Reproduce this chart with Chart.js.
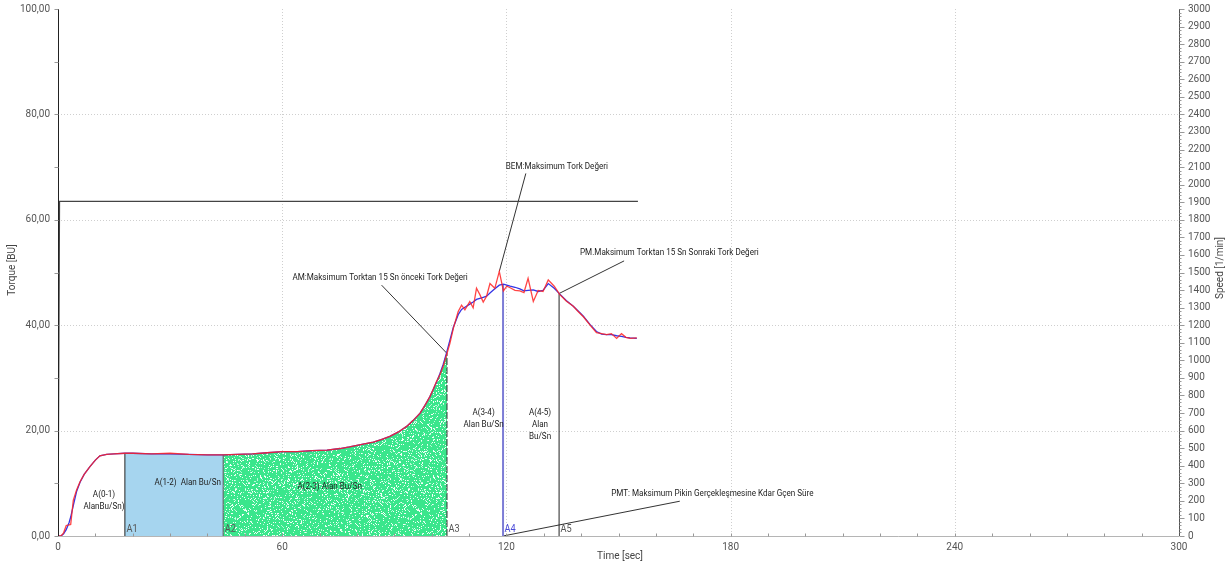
<!DOCTYPE html>
<html>
<head>
<meta charset="utf-8">
<script src="https://cdn.jsdelivr.net/npm/chart.js@4.4.1/dist/chart.umd.min.js"></script>
<style>
  html, body { margin: 0; padding: 0; background: #fff; overflow: hidden; }
  canvas { display: block; }
</style>
</head>
<body>
<canvas id="c" width="1232" height="567"></canvas>
<script>
// Farinograph-style run: torque (BU) and mixer speed over time
const timeSec = [0, 0.8, 1.5, 2.2, 3.0, 3.4, 4.1, 5.0, 5.9, 7.0,
  8.6, 10, 11.2, 13, 15, 17.9, 20, 25, 30, 35,
  40, 44.2, 48, 52, 56, 60, 64, 68, 72, 75.5,
  78, 80, 82, 84.4, 86.5, 88.8, 91, 93.3, 95, 96.9,
  98.2, 99.5, 100.4, 101.3, 102.2, 103.1, 104, 104.9, 105.8, 107.1,
  108, 108.9, 110.2, 111.1, 112, 112.9, 113.8, 114.7, 115.6, 116.9,
  118.1, 119.2, 120.1, 121, 122.3, 123.6, 124.7, 125.8, 127.2, 128.5,
  129.8, 131.2, 132.8, 134.3, 136, 137.9, 139.2, 140.6, 142.4, 144.1,
  145.5, 146.8, 148.1, 149.5, 150.8, 152, 153.1, 154.9];

const torqueRaw = [0, 0, 0.6, 2.0, 2.1, 2.2, 6.8, 8.8, 10.3, 11.7,
  13.2, 14.4, 15.2, 15.5, 15.6, 15.7, 15.7, 15.6, 15.7, 15.5,
  15.4, 15.4, 15.5, 15.6, 15.8, 16.0, 16.0, 16.2, 16.3, 16.6,
  16.9, 17.2, 17.5, 17.8, 18.3, 18.9, 19.7, 20.8, 21.9, 23.3,
  24.8, 26.4, 27.8, 29.3, 30.6, 32.2, 34.4, 36.6, 39.4, 42.6,
  43.8, 42.9, 44.5, 43.3, 47.0, 45.8, 44.4, 45.5, 47.9, 47.0,
  50.2, 46.5, 47.4, 47.1, 46.6, 46.5, 46.2, 48.9, 44.5, 46.6,
  46.4, 48.6, 47.4, 45.8, 44.6, 43.6, 42.6, 41.6, 40.0, 38.6,
  38.4, 38.2, 38.4, 37.5, 38.4, 37.7, 37.5, 37.6];

const torqueAvg = [0, 0, 0.4, 1.2, 2.6, 3.6, 5.8, 8.5, 10.2, 11.7,
  13.2, 14.4, 15.2, 15.5, 15.6, 15.7, 15.7, 15.6, 15.6, 15.5,
  15.4, 15.4, 15.5, 15.6, 15.8, 16.0, 16.0, 16.2, 16.3, 16.6,
  16.9, 17.2, 17.5, 17.8, 18.3, 18.9, 19.7, 20.8, 21.9, 23.3,
  24.8, 26.4, 27.8, 29.2, 30.8, 32.6, 34.8, 37.2, 39.6, 42.0,
  43.0, 43.4, 44.0, 44.4, 44.9, 45.1, 45.3, 45.5, 46.1, 46.9,
  47.6, 47.8, 47.6, 47.4, 47.2, 46.9, 46.5, 46.6, 46.7, 46.4,
  46.6, 47.9, 47.0, 45.9, 44.7, 43.6, 42.7, 41.7, 40.1, 38.8,
  38.3, 38.2, 38.2, 38.0, 37.9, 37.7, 37.6, 37.5];

const speedTime = [0, 0.4, 155.2];
const speedRpm = [0, 1905, 1905];

const markerTimes = [17.9, 44.2, 104.1, 119.1, 134.1];
const markerNames = ['A1', 'A2', 'A3', 'A4', 'A5'];

const torqueTickStep = 20;
const speedTickStep = 100;
const timeTickStep = 60;

// ---------- helpers ----------
function interp(ts, vs, t) {
  if (t <= ts[0]) return vs[0];
  for (let i = 1; i < ts.length; i++) {
    if (t <= ts[i]) {
      const f = (t - ts[i - 1]) / (ts[i] - ts[i - 1]);
      return vs[i - 1] + f * (vs[i] - vs[i - 1]);
    }
  }
  return vs[vs.length - 1];
}
const rawAt = t => interp(timeSec, torqueRaw, t);
const avgAt = t => interp(timeSec, torqueAvg, t);

function areaUnder(t0, t1) {
  const pts = [{ x: t0, y: 0 }, { x: t0, y: avgAt(t0) }];
  timeSec.forEach((t, i) => { if (t > t0 && t < t1) pts.push({ x: t, y: torqueAvg[i] }); });
  pts.push({ x: t1, y: avgAt(t1) }, { x: t1, y: 0 });
  return pts;
}
const xy = (ts, vs) => ts.map((t, i) => ({ x: t, y: vs[i] }));

const peakIdx = torqueRaw.indexOf(Math.max(...torqueRaw));
const peakPt = { x: timeSec[peakIdx], y: torqueRaw[peakIdx] };

// speckled green texture for the development zone
const canvas = document.getElementById('c');
const mainCtx = canvas.getContext('2d');
function speckle() {
  const off = document.createElement('canvas');
  off.width = 173; off.height = 151;
  const g = off.getContext('2d');
  g.fillStyle = 'rgb(58,230,140)';
  g.fillRect(0, 0, off.width, off.height);
  let a = 0x9e3779b9;
  const next = () => {           // mulberry32 hash stream for the texture grain
    a |= 0; a = (a + 0x6D2B79F5) | 0;
    let t = Math.imul(a ^ (a >>> 15), 1 | a);
    t = (t + Math.imul(t ^ (t >>> 7), 61 | t)) ^ t;
    return ((t ^ (t >>> 14)) >>> 0) / 4294967296;
  };
  const n = Math.round(off.width * off.height * 0.17);
  for (let i = 0; i < n; i++) {
    const x = Math.floor(next() * off.width);
    const y = Math.floor(next() * off.height);
    g.fillStyle = next() < 0.6 ? 'rgba(255,255,255,0.95)' : 'rgba(235,255,245,0.7)';
    g.fillRect(x, y, 1, 1);
  }
  return mainCtx.createPattern(off, 'repeat');
}

const FONT = 'Roboto, "Noto Sans", sans-serif';
function txt(ctx, s, x, y, o = {}) {
  ctx.save();
  ctx.font = `${o.size || 9}px ${FONT}`;
  ctx.fillStyle = o.color || '#222';
  ctx.textAlign = o.align || 'center';
  ctx.textBaseline = 'middle';
  ctx.translate(x, y);
  if (o.rot) ctx.rotate(o.rot);
  ctx.scale(o.sx || 1, 1);
  ctx.fillText(s, 0, 0);
  ctx.restore();
}

const markerStyle = [
  { color: '#222', width: 1, dash: [] },
  { color: '#555', width: 1, dash: [] },
  { color: '#333', width: 1, dash: [7, 2] },
  { color: '#7d7dd6', width: 2, dash: [] },
  { color: '#222', width: 1, dash: [] }
];

const markerSets = markerTimes.map((t, i) => ({
  data: [{ x: t, y: 0 }, { x: t, y: i === 3 ? avgAt(t) : rawAt(t) }],
  borderColor: markerStyle[i].color,
  borderWidth: markerStyle[i].width,
  borderDash: markerStyle[i].dash,
  pointRadius: 0, yAxisID: 'y'
}));

// annotation captions: text anchor and leader start in axis units
const notes = [
  { text: 'BEM:Maksimum Tork Değeri', at: [133.5, 70.1], from: [125.2, 68.8], to: peakPt },
  { text: 'PM.Maksimum Torktan 15 Sn Sonraki Tork Değeri', at: [163.6, 53.8], from: [151.5, 52.2],
    to: { x: markerTimes[4], y: rawAt(markerTimes[4]) } },
  { text: 'AM:Maksimum Torktan 15 Sn önceki Tork Değeri', at: [86.2, 49.0], from: [86.6, 47.6],
    to: { x: markerTimes[2], y: rawAt(markerTimes[2]) } },
  { text: 'PMT: Maksimum Pikin Gerçekleşmesine Kdar Gçen Süre', at: [175.1, 8.1], from: [166.4, 6.6],
    to: { x: markerTimes[3], y: 0 } }
];
const leaderSets = notes.map(n => ({
  data: [{ x: n.from[0], y: n.from[1] }, n.to],
  borderColor: '#333', borderWidth: 1, pointRadius: 0, yAxisID: 'y'
}));

const zoneLabels = [
  { lines: ['A(0-1)', 'AlanBu/Sn)'], at: [12.3, 7.8] },
  { lines: ['A(1-2)  Alan Bu/Sn'], at: [34.7, 10.1] },
  { lines: ['A(2-3) Alan Bu/Sn'], at: [72.7, 9.4] },
  { lines: ['A(3-4)', 'Alan Bu/Sn'], at: [113.9, 23.3] },
  { lines: ['A(4-5)', 'Alan', 'Bu/Sn'], at: [129.0, 23.3] }
];

const chrome = {
  id: 'chrome',
  beforeDatasetsDraw(chart) {
    const { ctx, chartArea: a, scales: { x, y } } = chart;
    ctx.save();
    ctx.strokeStyle = '#cfcfcf';
    ctx.lineWidth = 1;
    ctx.setLineDash([1, 2]);
    for (let v = torqueTickStep; v < 100; v += torqueTickStep) {
      const py = Math.round(y.getPixelForValue(v)) + 0.5;
      ctx.beginPath(); ctx.moveTo(a.left, py); ctx.lineTo(a.right, py); ctx.stroke();
    }
    for (let v = timeTickStep; v < 300; v += timeTickStep) {
      const px = Math.round(x.getPixelForValue(v)) + 0.5;
      ctx.beginPath(); ctx.moveTo(px, a.top); ctx.lineTo(px, a.bottom); ctx.stroke();
    }
    ctx.restore();
  },
  afterDatasetsDraw(chart) {
    const { ctx, chartArea: a, scales: { x, y, y1 } } = chart;
    ctx.save();
    // axis lines
    const L = Math.round(a.left) + 0.5, R = Math.round(a.right) + 0.5, B = Math.round(a.bottom) + 0.5;
    ctx.lineWidth = 1;
    ctx.strokeStyle = '#b5b5b5';
    ctx.beginPath(); ctx.moveTo(a.left, B); ctx.lineTo(a.right, B); ctx.stroke();
    ctx.strokeStyle = '#222';
    ctx.beginPath(); ctx.moveTo(L, a.top); ctx.lineTo(L, a.bottom); ctx.stroke();
    ctx.strokeStyle = '#555';
    ctx.beginPath(); ctx.moveTo(R, a.top); ctx.lineTo(R, a.bottom); ctx.stroke();
    // tick marks
    ctx.strokeStyle = '#999';
    for (let v = 0; v <= 100; v += 10) {
      const py = Math.round(y.getPixelForValue(v)) + 0.5;
      ctx.beginPath(); ctx.moveTo(L - 4, py); ctx.lineTo(L, py); ctx.stroke();
    }
    for (let v = 10; v < 300; v += 10) {
      const px = Math.round(x.getPixelForValue(v)) + 0.5;
      ctx.beginPath(); ctx.moveTo(px, B - 3); ctx.lineTo(px, B); ctx.stroke();
    }
    for (let v = 0; v <= 3000; v += 20) {
      const py = Math.round(y1.getPixelForValue(v)) + 0.5;
      const len = v % speedTickStep === 0 ? 5 : 2;
      ctx.beginPath(); ctx.moveTo(R, py); ctx.lineTo(R + len, py); ctx.stroke();
    }
    ctx.restore();

    // marker names at the base of each divider
    markerTimes.forEach((t, i) => {
      const px = x.getPixelForValue(t);
      txt(ctx, markerNames[i], px + 1.5, a.bottom - 7,
        { size: 10, align: 'left', color: i === 3 ? '#4a4ad8' : '#555', sx: 0.92 });
    });
    // zone captions
    zoneLabels.forEach(z => {
      const cx = x.getPixelForValue(z.at[0]);
      const cy = y.getPixelForValue(z.at[1]);
      z.lines.forEach((s, k) => txt(ctx, s, cx, cy + k * 11.7, { size: 9, color: '#222', sx: 0.9 }));
    });
    // annotation captions
    notes.forEach(n => {
      txt(ctx, n.text, x.getPixelForValue(n.at[0]), y.getPixelForValue(n.at[1]),
        { size: 9, color: '#222', sx: 0.9 });
    });
    // axis titles
    txt(ctx, 'Torque [BU]', 12, 270, { size: 10, color: '#444', rot: -Math.PI / 2 });
    txt(ctx, 'Speed [1/min]', 1220, 268, { size: 10, color: '#444', rot: -Math.PI / 2 });
    txt(ctx, 'Time [sec]', 620, 556, { size: 10, color: '#444' });
  }
};

const tickFont = { family: FONT, size: 10 };
// vertical axes: fixed width, and no extra label overhang so the plot spans the full height
const fixVertical = w => s => { s.width = w; s.paddingTop = 0; s.paddingBottom = 0; };

new Chart(canvas, {
  type: 'line',
  data: {
    datasets: [
      { data: xy(timeSec, torqueRaw), borderColor: 'rgba(255,35,35,0.85)', borderWidth: 1.3, pointRadius: 0, yAxisID: 'y' },
      { data: xy(timeSec, torqueAvg), borderColor: '#3434e6', borderWidth: 1.3, pointRadius: 0, yAxisID: 'y' },
      { data: xy(speedTime, speedRpm), borderColor: '#444', borderWidth: 1.3, pointRadius: 0, yAxisID: 'y1' },
      ...markerSets,
      ...leaderSets,
      { data: areaUnder(markerTimes[0], markerTimes[1]), borderWidth: 0, pointRadius: 0,
        backgroundColor: '#a6d5ef', fill: 'origin', yAxisID: 'y' },
      { data: areaUnder(markerTimes[1], markerTimes[2]), borderWidth: 0, pointRadius: 0,
        backgroundColor: speckle(), fill: 'origin', yAxisID: 'y' }
    ]
  },
  options: {
    responsive: false,
    animation: false,
    parsing: true,
    layout: { padding: { top: 9, left: 0, right: 0, bottom: 0 } },
    elements: { line: { tension: 0 } },
    plugins: { legend: { display: false }, tooltip: { enabled: false } },
    scales: {
      x: {
        type: 'linear', position: 'bottom', min: 0, max: 300,
        grid: { display: false, drawTicks: false }, border: { display: false },
        ticks: { stepSize: timeTickStep, font: tickFont, color: '#555', padding: 5, maxRotation: 0 },
        afterFit: s => { s.height = 31; s.paddingLeft = 0; s.paddingRight = 0; }
      },
      y: {
        type: 'linear', position: 'left', min: 0, max: 100,
        grid: { display: false, drawTicks: false }, border: { display: false },
        ticks: { stepSize: torqueTickStep, font: tickFont, color: '#555', padding: 8,
          callback: v => v.toFixed(2).replace('.', ',') },
        afterFit: fixVertical(58)
      },
      y1: {
        type: 'linear', position: 'right', min: 0, max: 3000,
        grid: { display: false, drawTicks: false }, border: { display: false },
        ticks: { stepSize: speedTickStep, font: tickFont, color: '#555', padding: 9, autoSkip: false,
          callback: v => String(v) },
        afterFit: fixVertical(53)
      }
    }
  },
  plugins: [chrome]
});
</script>
</body>
</html>
